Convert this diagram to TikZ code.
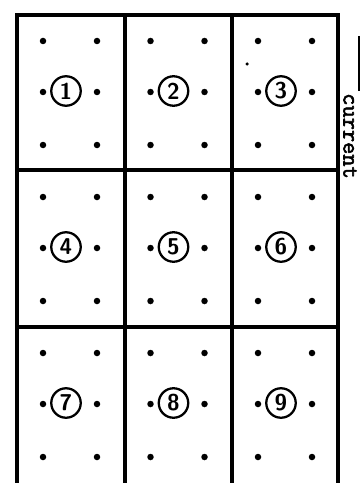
\documentclass[tikz,border=0pt]{standalone}
\usepackage{fontspec}
\newfontfamily\curfont[FakeBold=2.5]{Latin Modern Mono}
\tikzset{pin/.style={circle,fill=black,minimum size=1.3mm,inner sep=0pt},
 cell/.style={circle,draw=black,line width=1.3pt,minimum size=5.9mm,inner sep=0pt,font=\sffamily\bfseries\fontsize{13}{13}\selectfont},
 wall/.style={line width=2.3pt}}

\begin{document}
\begin{tikzpicture}[x=0.02cm,y=-0.02cm]
 \useasboundingbox (0,0) rectangle (364,483);
 % frame, open at the bottom
 \draw[wall] (17,483)--(17,15)--(338,15)--(338,483);
 \foreach \xx in {125,232} \draw[wall] (\xx,15)--(\xx,483);
 \foreach \yy in {170,327} \draw[wall] (17,\yy)--(338,\yy);
 \foreach \i in {0,...,8}{
  \pgfmathsetmacro{\xx}{17+mod(\i,3)*107.5}
  \pgfmathsetmacro{\yy}{15+floor(\i/3)*156}
  \pgfmathtruncatemacro{\k}{\i+1}
  \node[cell] (c\k) at (\xx+49,\yy+76) {\k};
  \foreach \dx in {26,80} \foreach \dy in {26,77,130}
   \node[pin] (p\k-\dx-\dy) at (\xx+\dx,\yy+\dy) {};
 }
 \node[pin,minimum size=.7mm] (stray) at (247,64) {};
 \node[font=\curfont\fontsize{13.5}{13.5}\selectfont,rotate=-90,inner sep=1pt] (cur) at (350,136) {current};
 \coordinate (top) at (359,36);
 \draw[line width=1.2pt] (top) -- (top |- cur.north west);
\end{tikzpicture}
\end{document}
